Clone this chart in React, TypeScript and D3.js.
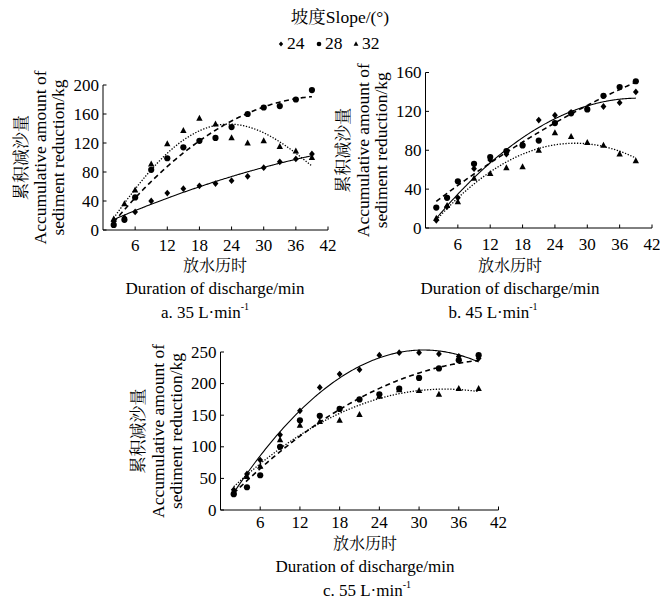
import React from 'react';
import * as d3 from 'd3';

// ---- data ----
const time = [2, 4, 6, 9, 12, 15, 18, 21, 24, 27, 30, 33, 36, 39];
const xTicks = [6, 12, 18, 24, 30, 36, 42];
const slopes = ['24', '28', '32'];

const a24 = [12, 17, 25, 40, 51, 57, 61, 64, 68, 74, 86, 94, 98, 105];
const a28 = [7, 14, 45, 83, 99, 114, 123, 127, 142, 160, 169, 171, 180, 193];
const a32 = [15, 36, 55, 91, 119, 137, 154, 146, 127, 120, 123, 115, 109, 100];
// trend line of the 32° series in panel a at the same times
const a32Trend = [18, 37, 53, 83, 108, 126, 136, 143, 146, 142, 133, 122, 108, 87];

const b24 = [8, 22, 31, 61, 70, 76, 86, 111, 116, 119, 123, 125, 129, 140];
const b28 = [21, 31, 48, 66, 73, 79, 85, 90, 108, 118, 122, 136, 145, 151];
const b32 = [10, 23, 27, 51, 56, 62, 63, 80, 98, 94, 88, 85, 76, 69];

const c24 = [32, 57, 79, 119, 157, 194, 215, 222, 245, 249, 249, 247, 243, 240];
const c28 = [25, 36, 55, 100, 142, 149, 160, 175, 183, 192, 209, 224, 237, 245];
const c32 = [30, 53, 69, 111, 134, 140, 142, 151, 180, 190, 189, 183, 192, 192];

const aYTicks = [0, 40, 80, 120, 160, 200];
const bYTicks = [0, 40, 80, 120, 160];
const cYTicks = [0, 50, 100, 150, 200, 250];

const yLabelCn = '累积减沙量';
const yLabelEn1 = 'Accumulative amount of';
const yLabelEn2 = 'sediment reduction/kg';
const xLabelCn = '放水历时';
const xLabelEn = 'Duration of discharge/min';
const legendTitleCn = '坡度';
const legendTitleEn = 'Slope/(°)';
const panelTitles = ['a. 35 L·min', 'b. 45 L·min', 'c. 55 L·min'];

// ---- helpers ----
function polyfit(xs: number[], ys: number[], order: number): number[] {
  const n = order + 1;
  const A: number[][] = [];
  for (let i = 0; i < n; i++) {
    A.push(new Array(n + 1).fill(0));
    for (let j = 0; j < n; j++) {
      A[i][j] = d3.sum(xs, (x) => Math.pow(x, i + j));
    }
    A[i][n] = d3.sum(xs, (x, k) => Math.pow(x, i) * ys[k]);
  }
  for (let c = 0; c < n; c++) {
    let p = c;
    for (let r = c + 1; r < n; r++) if (Math.abs(A[r][c]) > Math.abs(A[p][c])) p = r;
    [A[c], A[p]] = [A[p], A[c]];
    for (let r = 0; r < n; r++) {
      if (r === c) continue;
      const f = A[r][c] / A[c][c];
      for (let k = c; k <= n; k++) A[r][k] -= f * A[c][k];
    }
  }
  return A.map((row, i) => row[n] / row[i]);
}
const evalPoly = (co: number[], x: number) => co.reduce((s, c, i) => s + c * Math.pow(x, i), 0);

const SERIF = '"Liberation Serif", "Times New Roman", "Noto Serif CJK SC", "Noto Sans CJK SC", serif';

const lineStyles = [
  { dash: undefined as string | undefined, width: 1.1 },
  { dash: '5,3.5', width: 1.6 },
  { dash: '1.3,1.6', width: 1.3 },
];

function Marker({ kind, x, y, s = 1 }: { kind: number; x: number; y: number; s?: number }) {
  if (kind === 0) {
    const r = 3.4 * s;
    return <path d={`M${x},${y - r}L${x + r * 0.85},${y}L${x},${y + r}L${x - r * 0.85},${y}Z`} fill="#000" />;
  }
  if (kind === 1) return <circle cx={x} cy={y} r={3.1 * s} fill="#000" />;
  const h = 6 * s;
  const w = 6.4 * s;
  return <path d={`M${x},${y - h * 0.6}L${x + w / 2},${y + h * 0.4}L${x - w / 2},${y + h * 0.4}Z`} fill="#000" />;
}

type PanelProps = {
  px0: number; px1: number; py0: number; py1: number;
  yMax: number; yTicks: number[]; series: number[][]; trends: number[][]; orders: number[];
  labelX: number; titleX: number; labelY: number; tickDy: number; title: string;
};

function Panel(p: PanelProps) {
  const x = d3.scaleLinear().domain([0, 42]).range([p.px0, p.px1]);
  const y = d3.scaleLinear().domain([0, p.yMax]).range([p.py0, p.py1]);
  const midY = (p.py0 + p.py1) / 2;
  const tMin = d3.min(time) as number;
  const tMax = d3.max(time) as number;
  const samples = d3.range(tMin, tMax + 0.001, 0.25);
  const line = d3.line<[number, number]>().x((d) => x(d[0])).y((d) => y(d[1])).curve(d3.curveMonotoneX);
  return (
    <g>
      {/* fitted trend lines */}
      {p.trends.map((vals, si) => {
        const co = polyfit(time, vals, p.orders[si]);
        const pts: [number, number][] = samples.map((t) => [t, evalPoly(co, t)]);
        return (
          <path key={'f' + si} d={line(pts) || ''} fill="none" stroke="#000"
            strokeWidth={lineStyles[si].width} strokeDasharray={lineStyles[si].dash} />
        );
      })}
      {/* points */}
      {p.series.map((vals, si) =>
        vals.map((v, i) => <Marker key={'m' + si + '-' + i} kind={si} x={x(time[i])} y={y(v)} />)
      )}
      {/* axes */}
      <line x1={x(0)} x2={x(42)} y1={y(0)} y2={y(0)} stroke="#000" strokeWidth={1} />
      <line x1={x(0)} x2={x(0)} y1={y(0)} y2={y(p.yMax)} stroke="#000" strokeWidth={1} />
      {xTicks.map((t) => (
        <g key={'xt' + t}>
          <line x1={x(t)} x2={x(t)} y1={y(0)} y2={y(0) - 3.5} stroke="#000" />
          <text x={x(t)} y={y(0) + p.tickDy} textAnchor="middle" dominantBaseline="central" fontSize={17} fontFamily={SERIF}>{t}</text>
        </g>
      ))}
      {p.yTicks.map((t) => (
        <g key={'yt' + t}>
          <line x1={x(0)} x2={x(0) + 3.5} y1={y(t)} y2={y(t)} stroke="#000" />
          <text x={x(0) - 4} y={y(t)} textAnchor="end" dominantBaseline="central" fontSize={17} fontFamily={SERIF}>{t}</text>
        </g>
      ))}
      {/* y labels */}
      <text transform={`translate(${x(0) - 82},${midY}) rotate(-90)`} textAnchor="middle" dominantBaseline="central" fontSize={17} fontFamily={SERIF}>{yLabelCn}</text>
      <text transform={`translate(${x(0) - 63},${midY}) rotate(-90)`} textAnchor="middle" dominantBaseline="central" fontSize={17.5} fontFamily={SERIF}>{yLabelEn1}</text>
      <text transform={`translate(${x(0) - 45},${midY}) rotate(-90)`} textAnchor="middle" dominantBaseline="central" fontSize={17.5} fontFamily={SERIF}>{yLabelEn2}</text>
      {/* x labels */}
      <text x={p.labelX} y={p.labelY} textAnchor="middle" dominantBaseline="central" fontSize={16} fontFamily={SERIF}>{xLabelCn}</text>
      <text x={p.labelX} y={p.labelY + 23} textAnchor="middle" dominantBaseline="central" fontSize={17} fontFamily={SERIF}>{xLabelEn}</text>
      <text x={p.titleX} y={p.labelY + 47} textAnchor="middle" dominantBaseline="central" fontSize={17} fontFamily={SERIF}>
        {p.title}<tspan fontSize={10} dy={-6}>-1</tspan>
      </text>
    </g>
  );
}

export default function App() {
  const legendXs = [281, 319, 356];
  return (
    <svg width={660} height={601} style={{ position: 'absolute', left: 0, top: 0, background: '#fff' }}>
      <rect width={660} height={601} fill="#fff" />
      <text x={340} y={17} textAnchor="middle" dominantBaseline="central" fontSize={17.5} fontFamily={SERIF}>
        {legendTitleCn}{legendTitleEn}
      </text>
      {slopes.map((s, i) => (
        <g key={s}>
          <Marker kind={i} x={legendXs[i]} y={44} s={0.75} />
          <text x={legendXs[i] + 6} y={43} dominantBaseline="central" fontSize={17.5} fontFamily={SERIF}>{s}</text>
        </g>
      ))}
      <Panel px0={103} px1={328} py0={230} py1={85} yMax={200} yTicks={aYTicks}
        series={[a24, a28, a32]} trends={[a24, a28, a32Trend]} orders={[2, 2, 4]}
        labelX={215} titleX={205} labelY={265} tickDy={15} title={panelTitles[0]} />
      <Panel px0={425.5} px1={652} py0={228} py1={72.5} yMax={160} yTicks={bYTicks}
        series={[b24, b28, b32]} trends={[b24, b28, b32]} orders={[2, 2, 2]}
        labelX={510} titleX={493} labelY={265} tickDy={16} title={panelTitles[1]} />
      <Panel px0={220.5} px1={498.5} py0={510} py1={352} yMax={250} yTicks={cYTicks}
        series={[c24, c28, c32]} trends={[c24, c28, c32]} orders={[2, 2, 2]}
        labelX={365} titleX={367} labelY={543} tickDy={12.5} title={panelTitles[2]} />
    </svg>
  );
}
